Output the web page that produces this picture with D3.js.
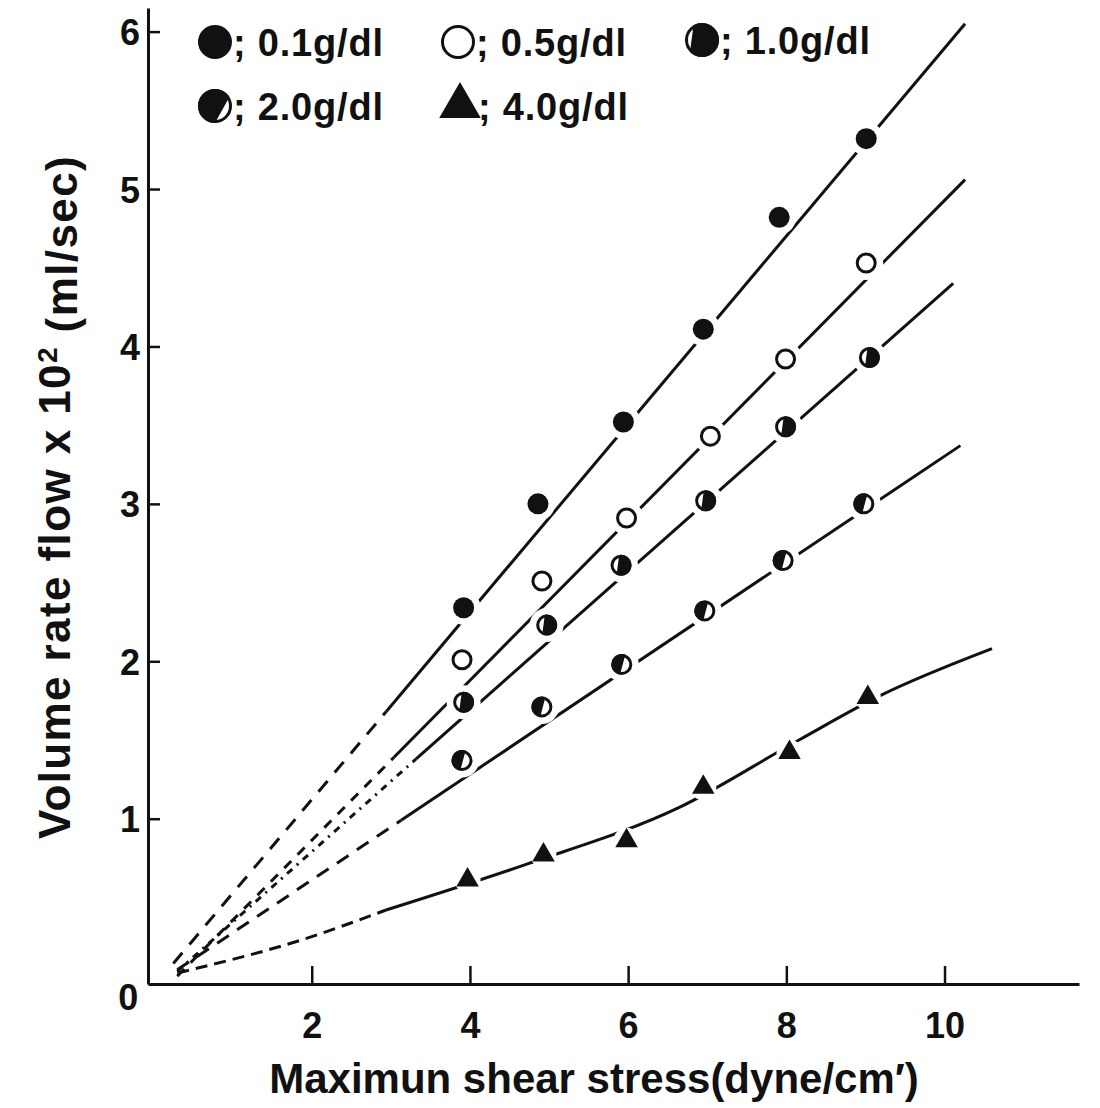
<!DOCTYPE html>
<html>
<head>
<meta charset="utf-8">
<script src="https://cdn.jsdelivr.net/npm/d3@7"></script>
<style>
body { margin: 0; background: #fff; }
svg text { font-family: "Liberation Sans", Arial, sans-serif; font-weight: bold; fill: #111; }
</style>
</head>
<body>
<div id="chart"></div>
<script>
// tick values
const xTicks = [2, 4, 6, 8, 10];
const yTicks = [1, 2, 3, 4, 5, 6];

// concentrations (legend labels)
const labels = ['0.1g/dl', '0.5g/dl', '1.0g/dl', '2.0g/dl', '4.0g/dl'];

// measured points: shear stress (x) and volume rate flow x10^2 (y)
const shear01 = [3.92, 4.86, 5.94, 6.95, 7.91, 9.01];
const flow01  = [2.34, 3.00, 3.52, 4.11, 4.82, 5.32];
const shear05 = [3.90, 4.91, 5.98, 7.04, 7.99, 9.01];
const flow05  = [2.01, 2.51, 2.91, 3.43, 3.92, 4.53];
const shear10 = [3.92, 4.97, 5.91, 6.98, 7.99, 9.05];
const flow10  = [1.74, 2.23, 2.61, 3.02, 3.49, 3.93];
const shear20 = [3.90, 4.91, 5.92, 6.97, 7.96, 8.98];
const flow20  = [1.37, 1.71, 1.98, 2.32, 2.64, 3.00];
const shear40 = [3.97, 4.93, 5.98, 6.95, 8.04, 9.03];
const flow40  = [0.61, 0.77, 0.86, 1.20, 1.42, 1.77];

// fitted lines: extrapolated (dashed) part and drawn (solid) part
const fitDash01  = [[0.25, 0.08], [2.94, 1.68]];
const fitSolid01 = [[2.94, 1.68], [10.26, 6.05]];
const fitDash05  = [[0.30, 0.00], [3.04, 1.39]];
const fitSolid05 = [[3.04, 1.39], [10.26, 5.06]];
const fitDash10  = [[0.30, 0.03], [3.32, 1.38]];
const fitSolid10 = [[3.32, 1.38], [10.11, 4.40]];
const fitDash20  = [[0.30, 0.04], [3.13, 0.99]];
const fitSolid20 = [[3.13, 0.99], [10.20, 3.37]];
const fitDash40  = [[0.30, 0.02], [1.87, 0.23], [2.94, 0.42]];
const fitSolid40 = [[2.94, 0.42], [4.71, 0.71], [6.64, 1.07], [8.16, 1.50], [9.18, 1.78], [10.60, 2.08]];

const W = 1100, H = 1108;
const svg = d3.select("#chart").append("svg")
    .attr("width", W).attr("height", H);

const x = d3.scaleLinear().domain([-0.07, 11.7]).range([148, 1079]);
const y = d3.scaleLinear().domain([-0.05, 6.15]).range([984, 8]);

const ink = "#111";

// axes
const xAxis = svg.append("g")
    .attr("transform", `translate(0, ${y(-0.05)})`)
    .call(d3.axisBottom(x).tickValues(xTicks).tickSize(-18).tickSizeOuter(0).tickPadding(28).tickFormat(d3.format("d")));
const yAxis = svg.append("g")
    .attr("transform", `translate(${x(-0.07)}, 0)`)
    .call(d3.axisLeft(y).tickValues(yTicks).tickSize(-12).tickSizeOuter(0).tickPadding(8).tickFormat(d3.format("d")));
[xAxis, yAxis].forEach(a => {
    a.select(".domain").attr("stroke", ink).attr("stroke-width", 3);
    a.selectAll(".tick line").attr("stroke", ink).attr("stroke-width", 2.5);
    a.selectAll(".tick text").style("font-size", "36px").attr("fill", ink);
});
yAxis.selectAll(".tick text").attr("dy", "0.36em");

// origin label
svg.append("text")
    .attr("x", x(-0.32)).attr("y", y(-0.13))
    .attr("text-anchor", "middle").attr("dy", "0.36em")
    .style("font-size", "36px")
    .text("0");

// axis titles
svg.append("text")
    .attr("x", 594).attr("y", 1093)
    .attr("text-anchor", "middle")
    .style("font-size", "42px")
    .text("Maximun shear stress(dyne/cm′)");

const yTitle = svg.append("text")
    .attr("transform", "translate(70, 497) rotate(-90)")
    .attr("text-anchor", "middle")
    .style("font-size", "44px")
    .style("letter-spacing", "1.4px");
yTitle.append("tspan").text("Volume rate flow x 10");
yTitle.append("tspan").attr("dy", "-0.45em").style("font-size", "28px").text("2");
yTitle.append("tspan").attr("dy", "0.45em").text(" (ml/sec)");

// symbols
function segPath(r, a0, a1) {
    const p = a => [r * Math.cos(a * Math.PI / 180), r * Math.sin(a * Math.PI / 180)];
    const [x0, y0] = p(a0), [x1, y1] = p(a1);
    const large = ((a1 - a0 + 360) % 360) > 180 ? 1 : 0;
    return `M${x0},${y0}A${r},${r} 0 ${large} 1 ${x1},${y1}Z`;
}

function drawSymbol(g, kind, r, legend) {
    if (kind === "filled") {
        g.append("circle").attr("r", r).attr("fill", ink);
    } else if (kind === "open") {
        g.append("circle").attr("r", r - 1.5).attr("fill", "#fff").attr("stroke", ink).attr("stroke-width", 3);
    } else if (kind === "right" || kind === "left") {
        g.append("circle").attr("r", r - 1.5).attr("fill", "#fff").attr("stroke", ink).attr("stroke-width", 3);
        let d;
        if (kind === "right") d = legend ? segPath(r, -120, 135) : segPath(r, -100, 115);
        else d = legend ? segPath(r, 90, 328) : segPath(r, 100, 290);
        g.append("path").attr("d", d).attr("fill", ink);
    } else if (kind === "triangle") {
        g.append("path")
            .attr("d", d3.symbol(d3.symbolTriangle, r * r * 1.3)())
            .attr("fill", ink);
    }
}

const series = [
    {label: labels[0], xs: shear01, ys: flow01, dash: fitDash01, solid: fitSolid01, kind: "filled",   pattern: "14,11"},
    {label: labels[1], xs: shear05, ys: flow05, dash: fitDash05, solid: fitSolid05, kind: "open",     pattern: "10,9"},
    {label: labels[2], xs: shear10, ys: flow10, dash: fitDash10, solid: fitSolid10, kind: "right",    pattern: "7,6,2,6"},
    {label: labels[3], xs: shear20, ys: flow20, dash: fitDash20, solid: fitSolid20, kind: "left",     pattern: "14,10"},
    {label: labels[4], xs: shear40, ys: flow40, dash: fitDash40, solid: fitSolid40, kind: "triangle", pattern: "12,7"}
];

const line = d3.line().x(d => x(d[0])).y(d => y(d[1])).curve(d3.curveMonotoneX);

const plot = svg.append("g");
series.forEach(s => {
    plot.append("path").attr("d", line(s.dash))
        .attr("fill", "none").attr("stroke", ink).attr("stroke-width", 3)
        .attr("stroke-dasharray", s.pattern);
    plot.append("path").attr("d", line(s.solid))
        .attr("fill", "none").attr("stroke", ink).attr("stroke-width", 3);
});

// white halo behind markers breaks the lines, as in the print
series.forEach(s => {
    s.xs.forEach((xv, i) => {
        plot.append("circle")
            .attr("cx", x(xv)).attr("cy", y(s.ys[i]))
            .attr("r", s.kind === "triangle" ? 13 : 17)
            .attr("fill", "#fff");
    });
});
series.forEach(s => {
    s.xs.forEach((xv, i) => {
        const g = plot.append("g").attr("transform", `translate(${x(xv)}, ${y(s.ys[i])})`);
        drawSymbol(g, s.kind, s.kind === "triangle" ? 13 : 10.5, false);
    });
});

// legend
const legendSlots = [[215, 42], [458, 42], [702, 40], [215, 106], [460, 106]];
series.forEach((s, i) => {
    const [lx, ly] = legendSlots[i];
    const g = svg.append("g").attr("transform", `translate(${lx}, ${ly})`);
    drawSymbol(g, s.kind, s.kind === "triangle" ? 24 : 17, true);
    svg.append("text")
        .attr("x", lx + 18).attr("y", ly)
        .attr("dy", "0.36em")
        .style("font-size", "38px")
        .style("letter-spacing", "0.8px")
        .text("; " + s.label);
});
</script>
</body>
</html>
